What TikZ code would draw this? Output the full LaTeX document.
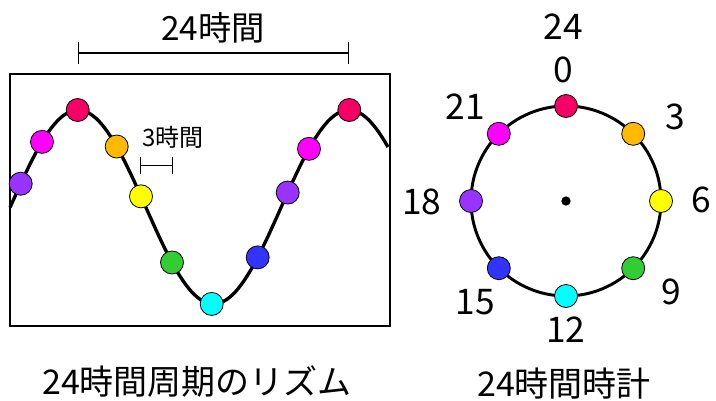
\documentclass[tikz,border=0pt]{standalone}
\usepackage{fontspec}
\usetikzlibrary{arrows.meta}
\newfontfamily\jp{Noto Sans CJK JP}
\definecolor{cR}{HTML}{F50064}
\definecolor{cM}{HTML}{FF00FF}
\definecolor{cO}{HTML}{FFB900}
\definecolor{cY}{HTML}{FFFF00}
\definecolor{cG}{HTML}{33CC33}
\definecolor{cC}{HTML}{00FFFF}
\definecolor{cB}{HTML}{3333FF}
\definecolor{cP}{HTML}{9933FF}
\newcommand\wavey[1]{207-97*cos(1.328413*(#1-78))}
\begin{document}
\begin{tikzpicture}[x=0.75pt,y=-0.75pt,
  ball/.style={circle,draw=black,line width=0.6pt,minimum size=17.25pt,inner sep=0pt},
  biglab/.style={font=\jp\fontsize{26.5}{26.5}\selectfont,inner sep=0pt},
  caplab/.style={font=\jp\fontsize{25.5}{25.5}\selectfont,inner sep=0pt},
  titlelab/.style={font=\jp\fontsize{25}{25}\selectfont,inner sep=0pt},
  smalllab/.style={font=\jp\fontsize{18}{18}\selectfont,inner sep=0pt},
  dimline/.style={line width=1.1pt},
]
\useasboundingbox (0,0) rectangle (716,400);
% left panel
\node[draw,line width=1.9pt,minimum width=285pt,minimum height=189pt,inner sep=0pt] (box) at (200,200) {};
\draw[line width=2.5pt] plot[domain=10:388,samples=120] (\x,{\wavey{\x}});
\node[ball,fill=cP] (wa18) at (20.7,{\wavey{20.7}}) {};
\node[ball,fill=cM] (wa21) at (42,{\wavey{42}}) {};
\node[ball,fill=cR] (w0) at (77.7,{\wavey{77.7}}) {};
\node[ball,fill=cO] (w3) at (116.7,{\wavey{116.7}}) {};
\node[ball,fill=cY] (w6) at (141,{\wavey{141}}) {};
\node[ball,fill=cG] (w9) at (172,{\wavey{172}}) {};
\node[ball,fill=cC] (w12) at (211.7,{\wavey{211.7}}) {};
\node[ball,fill=cB] (w15) at (257.7,{\wavey{257.7}}) {};
\node[ball,fill=cP] (w18) at (287.7,{\wavey{287.7}}) {};
\node[ball,fill=cM] (w21) at (309,{\wavey{309}}) {};
\node[ball,fill=cR] (w24) at (349.3,{\wavey{349.3}}) {};
% 24h dimension
\coordinate (d1) at (78,53);
\coordinate (d2) at (349,53);
\draw[dimline,{Bar[width=16.5pt]}-{Bar[width=16.5pt]}] (d1) -- (d2);
\node[titlelab] (t24) at (213,28) {24時間};
% 3h dimension
\coordinate (e1) at (139.7,165.5);
\coordinate (e2) at (173,165.5);
\draw[dimline,{Bar[width=13pt]}-{Bar[width=13pt]}] (e1) -- (e2);
\node[smalllab] (t3) at (173,137) {3時間};
\node[caplab] (cap1) at (197,382) {24時間周期のリズム};
% clock
\node[circle,draw,line width=2.2pt,minimum size=142.5pt,inner sep=0pt] (clock) at (566,201) {};
\node[circle,fill=black,minimum size=7pt,inner sep=0pt] (ctr) at (566,201) {};
\node[ball,fill=cR] (c0) at (566,106) {};
\node[ball,fill=cO] (c3) at (633.2,133.8) {};
\node[ball,fill=cY] (c6) at (661,201) {};
\node[ball,fill=cG] (c9) at (633.2,268.2) {};
\node[ball,fill=cC] (c12) at (566,296) {};
\node[ball,fill=cB] (c15) at (498.8,268.2) {};
\node[ball,fill=cP] (c18) at (471,201) {};
\node[ball,fill=cM] (c21) at (498.8,133.8) {};
\node[biglab] (l24) at (563.3,27) {24};
\node[biglab] (l0) at (563.3,70) {0};
\node[biglab] (l3) at (675,117) {3};
\node[biglab] (l6) at (701.7,199.5) {6};
\node[biglab] (l9) at (671.7,292) {9};
\node[biglab] (l12) at (565.7,330) {12};
\node[biglab] (l15) at (475,302) {15};
\node[biglab] (l18) at (421.7,202) {18};
\node[biglab] (l21) at (465,107) {21};
\node[caplab] (cap2) at (564,384) {24時間時計};
\end{tikzpicture}
\end{document}
